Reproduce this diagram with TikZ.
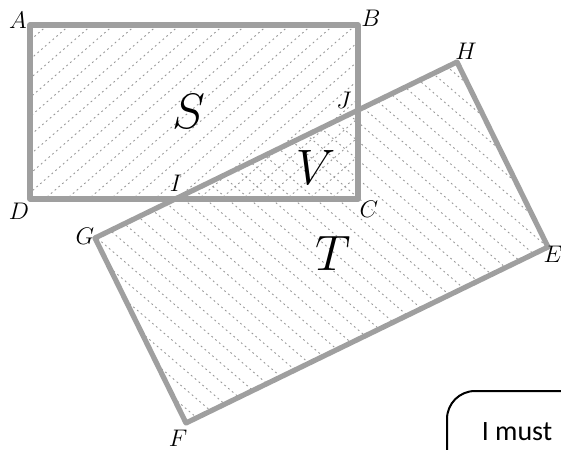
\documentclass[tikz,border=0pt]{standalone}
\usepackage{fontspec}
\newfontfamily\boxfont{Carlito}
\begin{document}
\begin{tikzpicture}[x=0.5pt,y=-0.5pt,
    edge/.style={line width=2.6pt, gray!75, line join=round},
    hatch/.style={gray!80, line width=0.45pt, dash pattern=on 0.9pt off 1.6pt},
    lbl/.style={font=\fontsize{12}{12}\selectfont},
    big/.style={font=\fontsize{27}{27}\selectfont}]
  \useasboundingbox (0,0) rectangle (561,449);
  % Ecken
  \coordinate (A) at (30,25);
  \coordinate (B) at (358,25);
  \coordinate (C) at (358,199);
  \coordinate (D) at (30,199);
  \coordinate (G) at (95,238);
  \coordinate (H) at (457,62);
  \coordinate (E) at (548,247);
  \coordinate (F) at (186,423);
  \coordinate (I) at (intersection of G--H and D--C);
  \coordinate (J) at (intersection of G--H and B--C);

  % Schraffur S
  \begin{scope}
    \clip (A) -- (B) -- (C) -- (D) -- cycle;
    \foreach \x in {-210,-188,...,380}
      \draw[hatch] (\x,210) -- ++(260,-225);
  \end{scope}
  % Schraffur T
  \begin{scope}
    \clip (G) -- (H) -- (E) -- (F) -- cycle;
    \foreach \x in {-420,-398,...,560}
      \draw[hatch] (\x,40) -- ++(560,480);
  \end{scope}

  % Rechtecke
  \draw[edge] (A) -- (B) -- (C) -- (D) -- cycle;
  \draw[edge] (G) -- (H) -- (E) -- (F) -- cycle;

  % Beschriftung
  \node[lbl] (lA) at (18,20) {$A$};
  \node[lbl] (lB) at (371,18) {$B$};
  \node[lbl] (lC) at (369,209) {$C$};
  \node[lbl] (lD) at (19,211) {$D$};
  \node[lbl] (lG) at (85,236) {$G$};
  \node[lbl] (lH) at (466,51) {$H$};
  \node[lbl] (lE) at (553,254) {$E$};
  \node[lbl] (lF) at (178,438) {$F$};
  \node[lbl] (lI) at (176,183) {$I$};
  \node[lbl] (lJ) at (344,100) {$J$};
  \node[big] (lS) at (189,111) {$S$};
  \node[big] (lV) at (316,167) {$V$};
  \node[big] (lT) at (333,253) {$T$};

  % Kasten unten rechts
  \draw[line width=1pt, rounded corners=14pt] (447,470) -- (447,391) -- (580,391);
  \node[font=\boxfont\fontsize{14}{14}\selectfont] (must) at (517,432) {I must};
\end{tikzpicture}
\end{document}
